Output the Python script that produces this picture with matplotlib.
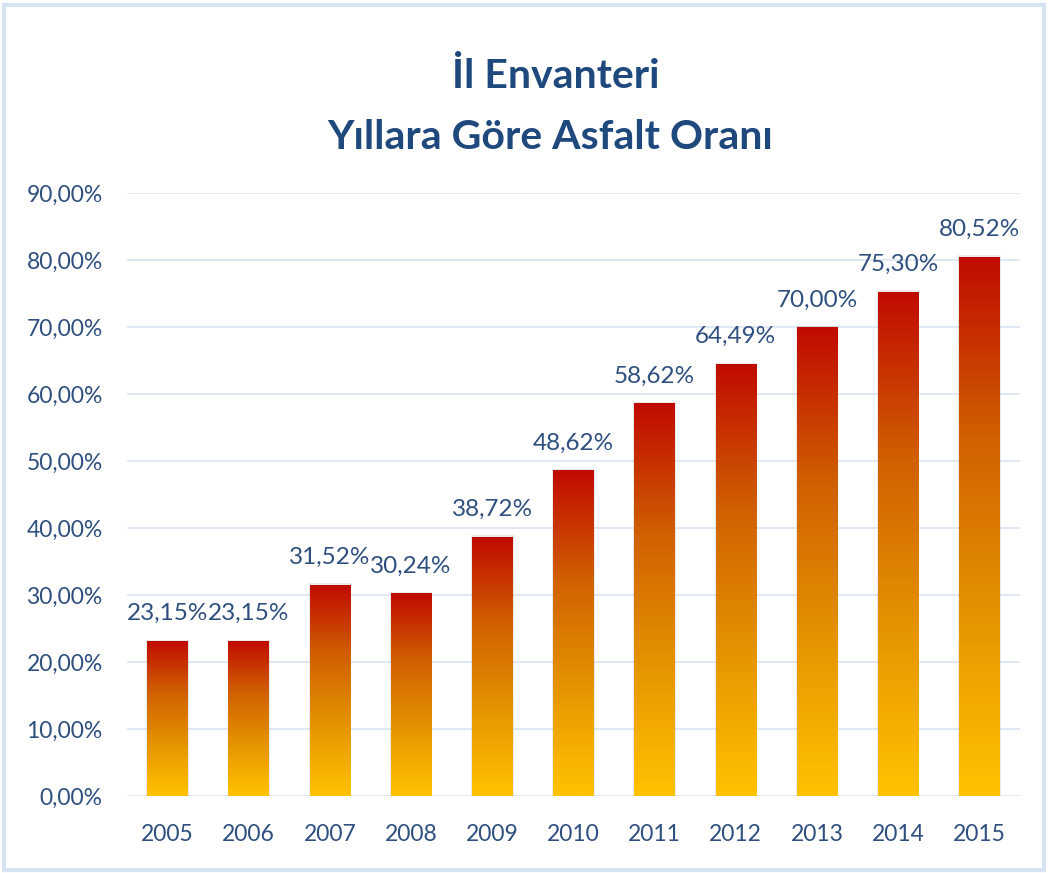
import matplotlib
matplotlib.use("Agg")
import matplotlib.pyplot as plt
import numpy as np
from matplotlib.colors import LinearSegmentedColormap
from matplotlib.patches import Rectangle

years = ["2005", "2006", "2007", "2008", "2009", "2010", "2011", "2012", "2013", "2014", "2015"]
values = [23.15, 23.15, 31.52, 30.24, 38.72, 48.62, 58.62, 64.49, 70.00, 75.30, 80.52]
yticks = [0, 10, 20, 30, 40, 50, 60, 70, 80, 90]
title_lines = ["İl Envanteri", "Yıllara Göre Asfalt Oranı"]

plt.rcParams['font.family'] = ['Lato', 'DejaVu Sans']
text_color = "#2E4F7F"
title_color = "#1F497D"
grid_color = "#D9E4F1"

fig = plt.figure(figsize=(10.48, 8.73), dpi=100)
fig.patch.set_facecolor("white")
# figure border
fig.add_artist(Rectangle((0.004, 0.004), 0.992, 0.99, transform=fig.transFigure,
                         fill=False, edgecolor="#D5E3F2", linewidth=3))

ax = fig.add_axes([0.1212, 0.0882, 0.852, 0.6907])
x = np.arange(len(years))
bars = ax.bar(x, values, width=0.5, color="none", edgecolor="none", zorder=3)

cmap = LinearSegmentedColormap.from_list("grad", ["#FFC300", "#E59400", "#D06000", "#C00A00"])
grad = np.linspace(0, 1, 256).reshape(-1, 1)
for b in bars:
    x0, w, h = b.get_x(), b.get_width(), b.get_height()
    # subtle shadow
    ax.add_patch(Rectangle((x0 - 0.012, 0), w + 0.024, h + 0.2, facecolor="#000000",
                           alpha=0.08, edgecolor="none", zorder=2.5))
    im = ax.imshow(grad, extent=(x0, x0 + w, 0, h), origin="lower", aspect="auto",
                   cmap=cmap, zorder=3, interpolation="bilinear")
    im.set_clip_path(b)

for xi, v in zip(x, values):
    ax.annotate(f"{v:.2f}%".replace(".", ","), (xi, v), xytext=(0, 12),
                textcoords="offset points", ha="center", va="bottom",
                fontsize=17.5, color=text_color, zorder=4)

ax.set_xlim(-0.5, len(years) - 0.5)
ax.set_ylim(0, 90)
ax.set_yticks(yticks)
ax.set_yticklabels([f"{t:.2f}%".replace(".", ",") for t in yticks])
ax.set_xticks(x)
ax.set_xticklabels(years)
ax.tick_params(axis="both", length=0, labelsize=16.5, labelcolor=text_color)
ax.tick_params(axis="y", pad=17.5)
ax.tick_params(axis="x", pad=20)
for s in ax.spines.values():
    s.set_visible(False)
ax.grid(axis="y", color=grid_color, linewidth=1.2, zorder=0)
ax.set_axisbelow(True)

fig.text(0.53, 0.912, title_lines[0], ha="center", va="center", fontsize=29.5,
         fontweight="bold", color=title_color)
fig.text(0.525, 0.843, title_lines[1], ha="center", va="center", fontsize=29.5,
         fontweight="bold", color=title_color)

fig.savefig("out.png", dpi=100)
